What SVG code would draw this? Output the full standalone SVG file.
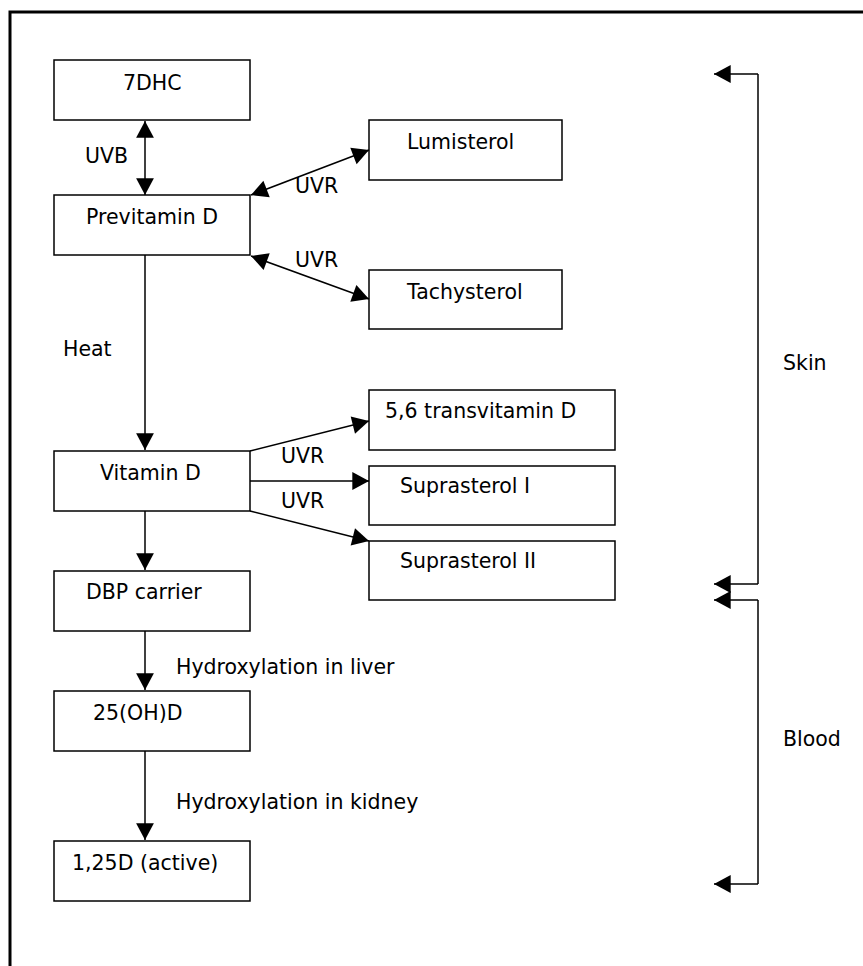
<svg xmlns="http://www.w3.org/2000/svg" width="863" height="966" viewBox="0 0 863 966">
<style>
rect.n{fill:#fff;stroke:#000;stroke-width:1.5}
text{font-family:"DejaVu Sans","Verdana",sans-serif;font-size:20.5px;fill:#000}
.c{fill:none;stroke:#000;stroke-width:1.5}
</style>
<defs>
<marker id="ah" markerUnits="userSpaceOnUse" markerWidth="20" markerHeight="20" viewBox="-16 -9 18 18" refX="0" refY="0" orient="auto-start-reverse">
<path d="M0,0 L-15,-8 L-15,8 Z" fill="#000"/>
</marker>
</defs>
<rect width="863" height="966" fill="#fff"/>
<path d="M10,966 V12 H863" fill="none" stroke="#000" stroke-width="3"/>
<g id="n-7dhc"><rect class="n" x="54" y="60" width="196" height="60"/><text x="123" y="90">7DHC</text></g>
<g id="n-previtamin"><rect class="n" x="54" y="195" width="196" height="60"/><text x="86" y="224">Previtamin D</text></g>
<g id="n-lumisterol"><rect class="n" x="369" y="120" width="193" height="60"/><text x="407" y="149">Lumisterol</text></g>
<g id="n-tachysterol"><rect class="n" x="369" y="270" width="193" height="59"/><text x="407" y="299">Tachysterol</text></g>
<g id="n-vitamind"><rect class="n" x="54" y="451" width="196" height="60"/><text x="100" y="480">Vitamin D</text></g>
<g id="n-transvit"><rect class="n" x="369" y="390" width="246" height="60"/><text x="385" y="418">5,6 transvitamin D</text></g>
<g id="n-sup1"><rect class="n" x="369" y="466" width="246" height="59"/><text x="400" y="493">Suprasterol I</text></g>
<g id="n-sup2"><rect class="n" x="369" y="541" width="246" height="59"/><text x="400" y="568">Suprasterol II</text></g>
<g id="n-dbp"><rect class="n" x="54" y="571" width="196" height="60"/><text x="86" y="599">DBP carrier</text></g>
<g id="n-25oh"><rect class="n" x="54" y="691" width="196" height="60"/><text x="93" y="720">25(OH)D</text></g>
<g id="n-125d"><rect class="n" x="54" y="841" width="196" height="60"/><text x="72" y="870">1,25D (active)</text></g>
<g id="connectors">
<line class="c" x1="145" y1="121" x2="145" y2="195" marker-start="url(#ah)" marker-end="url(#ah)"/>
<line class="c" x1="251" y1="195" x2="369" y2="150" marker-start="url(#ah)" marker-end="url(#ah)"/>
<line class="c" x1="251" y1="256" x2="369" y2="299" marker-start="url(#ah)" marker-end="url(#ah)"/>
<line class="c" x1="145" y1="255" x2="145" y2="450" marker-end="url(#ah)"/>
<line class="c" x1="250" y1="451" x2="369" y2="421" marker-end="url(#ah)"/>
<line class="c" x1="250" y1="481" x2="369" y2="481" marker-end="url(#ah)"/>
<line class="c" x1="250" y1="511" x2="369" y2="541" marker-end="url(#ah)"/>
<line class="c" x1="145" y1="511" x2="145" y2="570" marker-end="url(#ah)"/>
<line class="c" x1="145" y1="631" x2="145" y2="690" marker-end="url(#ah)"/>
<line class="c" x1="145" y1="751" x2="145" y2="840" marker-end="url(#ah)"/>
<path class="c" d="M758,74 V584" />
<line class="c" x1="758" y1="74" x2="714" y2="74" marker-end="url(#ah)"/>
<line class="c" x1="758" y1="584" x2="714" y2="584" marker-end="url(#ah)"/>
<path class="c" d="M758,600 V884"/>
<line class="c" x1="758" y1="600" x2="714" y2="600" marker-end="url(#ah)"/>
<line class="c" x1="758" y1="884" x2="714" y2="884" marker-end="url(#ah)"/>
</g>
<g id="labels">
<text x="85" y="163">UVB</text>
<text x="295" y="193">UVR</text>
<text x="295" y="267">UVR</text>
<text x="63" y="356">Heat</text>
<text x="281" y="463">UVR</text>
<text x="281" y="508">UVR</text>
<text x="176" y="674">Hydroxylation in liver</text>
<text x="176" y="809">Hydroxylation in kidney</text>
<text x="783" y="370">Skin</text>
<text x="783" y="746">Blood</text>
</g>
</svg>
